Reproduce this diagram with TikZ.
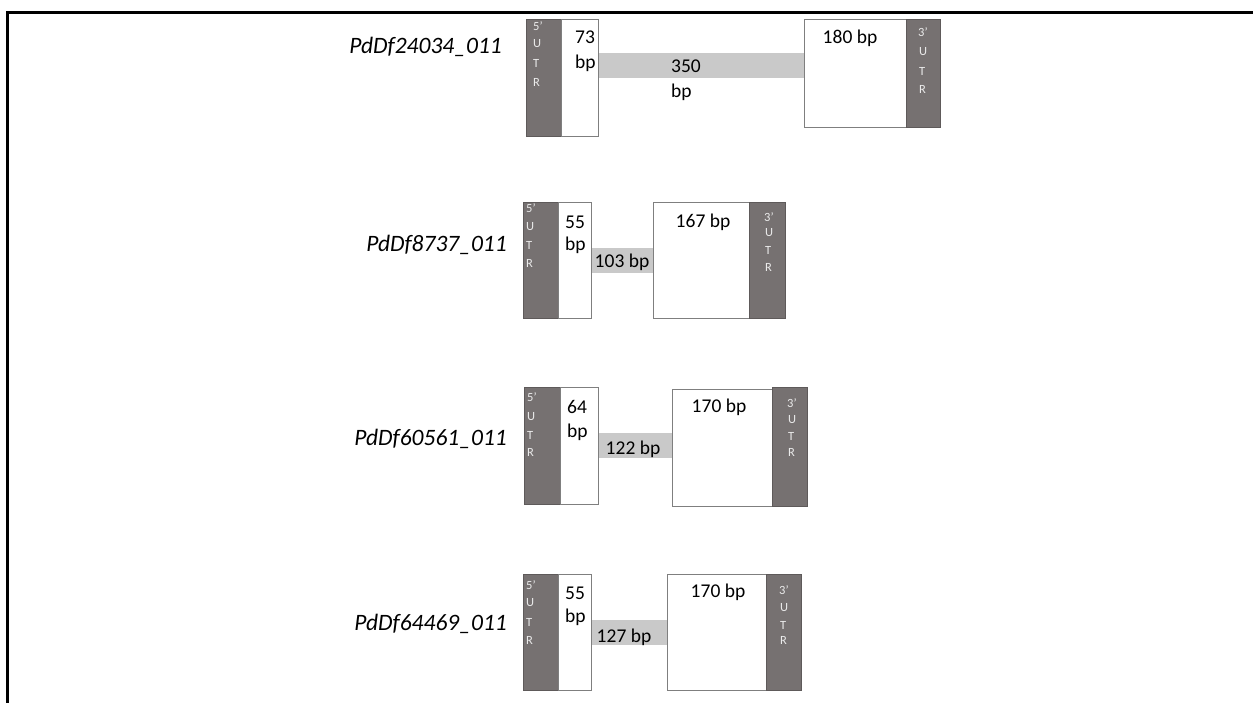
\documentclass[tikz,border=0pt]{standalone}
\usepackage{fontspec}
\setmainfont{Carlito}
\definecolor{utrdark}{HTML}{767171}
\definecolor{utredge}{HTML}{5E5A5A}
\definecolor{intron}{HTML}{C9C9C9}
\definecolor{boxedge}{HTML}{7F7F7F}
\definecolor{utrtext}{HTML}{EBEBEB}
\tikzset{
  utrbox/.style={fill=utrdark,draw=utredge,line width=0.8pt},
  exonbox/.style={fill=white,draw=boxedge,line width=0.8pt},
  intronbar/.style={fill=intron,draw=none},
  utrtxt/.style={text=utrtext,font=\fontsize{12.5}{14}\selectfont,inner sep=0pt,anchor=west},
  bptxt/.style={font=\fontsize{19.5}{22}\selectfont,inner sep=0pt},
  genelabel/.style={font=\fontsize{23.5}{26}\selectfont\itshape,inner sep=0pt,anchor=base east},
  framestyle/.style={line width=3pt,draw=black}
}
\begin{document}
\begin{tikzpicture}[x=1pt,y=-1pt]
\useasboundingbox (0,0) rectangle (1253,703);
\coordinate (fTR) at (1253,13);
\coordinate (fTL) at (7,13);
\coordinate (fBL) at (7,703);
\draw[framestyle] (fTR) -- (fTL) -- (fBL);

% ---------- Row 1 ----------
\node[genelabel] (g1) at (502,54) {PdDf24034\_011};
\path[intronbar] (598,53) rectangle (804,78);
\path[utrbox] (526,19) rectangle (561,136);
\path[exonbox] (561,19) rectangle (598,136);
\path[exonbox] (804,19) rectangle (906,127);
\path[utrbox] (906,19) rectangle (940,127);
\node[utrtxt] (r1a) at (533,26) {5’};
\node[utrtxt] (r1b) at (533,44) {U};
\node[utrtxt] (r1c) at (533,63) {T};
\node[utrtxt] (r1d) at (533,82) {R};
\node[utrtxt] (r1e) at (918,32) {3’};
\node[utrtxt] (r1f) at (919,52) {U};
\node[utrtxt] (r1g) at (919,71) {T};
\node[utrtxt] (r1h) at (919,89) {R};
\node[bptxt,anchor=west] (r1i) at (575,37) {73};
\node[bptxt,anchor=west] (r1j) at (575,63) {bp};
\node[bptxt,anchor=west] (r1k) at (671,66) {350};
\node[bptxt,anchor=west] (r1l) at (671,92) {bp};
\node[bptxt] (r1m) at (850,38) {180 bp};

% ---------- Row 2 ----------
\node[genelabel] (g2) at (507,252) {PdDf8737\_011};
\path[intronbar] (591,248) rectangle (653,273);
\path[utrbox] (523,202) rectangle (558,318);
\path[exonbox] (558,202) rectangle (591,318);
\path[exonbox] (653,202) rectangle (749,318);
\path[utrbox] (749,202) rectangle (785,318);
\node[utrtxt] (r2a) at (526,208) {5’};
\node[utrtxt] (r2b) at (526,227) {U};
\node[utrtxt] (r2c) at (526,245) {T};
\node[utrtxt] (r2d) at (526,263) {R};
\node[utrtxt] (r2e) at (764,217) {3’};
\node[utrtxt] (r2f) at (765,233) {U};
\node[utrtxt] (r2g) at (765,250) {T};
\node[utrtxt] (r2h) at (765,267) {R};
\node[bptxt,anchor=west] (r2i) at (565,222) {55};
\node[bptxt,anchor=west] (r2j) at (565,245) {bp};
\node[bptxt] (r2k) at (622,262) {103 bp};
\node[bptxt] (r2l) at (703,222) {167 bp};

% ---------- Row 3 ----------
\node[genelabel] (g3) at (507,445) {PdDf60561\_011};
\path[intronbar] (598,433) rectangle (672,458);
\path[utrbox] (524,387) rectangle (560,504);
\path[exonbox] (560,387) rectangle (598,504);
\path[exonbox] (672,389) rectangle (772,506);
\path[utrbox] (772,387) rectangle (807,506);
\node[utrtxt] (r3a) at (527,397) {5’};
\node[utrtxt] (r3b) at (527,417) {U};
\node[utrtxt] (r3c) at (527,435) {T};
\node[utrtxt] (r3d) at (527,452) {R};
\node[utrtxt] (r3e) at (787,403) {3’};
\node[utrtxt] (r3f) at (788,420) {U};
\node[utrtxt] (r3g) at (788,436) {T};
\node[utrtxt] (r3h) at (788,452) {R};
\node[bptxt,anchor=west] (r3i) at (567,407) {64};
\node[bptxt,anchor=west] (r3j) at (567,432) {bp};
\node[bptxt] (r3k) at (633,449) {122 bp};
\node[bptxt] (r3l) at (719,407) {170 bp};

% ---------- Row 4 ----------
\node[genelabel] (g4) at (507,630) {PdDf64469\_011};
\path[intronbar] (591,620) rectangle (667,645);
\path[utrbox] (523,574) rectangle (558,690);
\path[exonbox] (558,574) rectangle (591,690);
\path[exonbox] (667,574) rectangle (766,690);
\path[utrbox] (766,574) rectangle (801,690);
\node[utrtxt] (r4a) at (526,585) {5’};
\node[utrtxt] (r4b) at (526,603) {U};
\node[utrtxt] (r4c) at (526,622) {T};
\node[utrtxt] (r4d) at (526,640) {R};
\node[utrtxt] (r4e) at (779,590) {3’};
\node[utrtxt] (r4f) at (780,608) {U};
\node[utrtxt] (r4g) at (780,625) {T};
\node[utrtxt] (r4h) at (780,640) {R};
\node[bptxt,anchor=west] (r4i) at (565,593) {55};
\node[bptxt,anchor=west] (r4j) at (565,617) {bp};
\node[bptxt] (r4k) at (624,637) {127 bp};
\node[bptxt] (r4l) at (718,592) {170 bp};
\end{tikzpicture}
\end{document}
